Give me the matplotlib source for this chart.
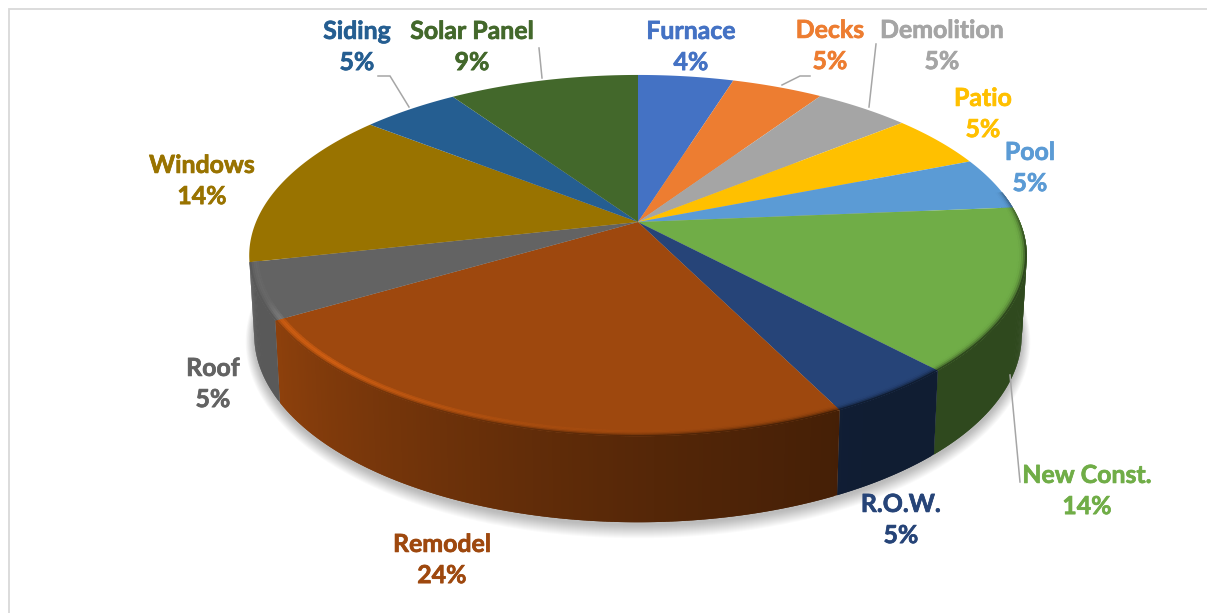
import numpy as np
import matplotlib
matplotlib.use("Agg")
import matplotlib.pyplot as plt
import matplotlib.patheffects as pe
from matplotlib.collections import PolyCollection
from matplotlib.colors import to_rgb
from matplotlib.patches import Polygon

categories = ["Furnace", "Decks", "Demolition", "Patio", "Pool", "New Const.",
              "R.O.W.", "Remodel", "Roof", "Windows", "Siding", "Solar Panel"]
values = [4.75, 4.55, 4.75, 4.9, 4.7, 14.5, 4.6, 23.7, 5.0, 14.25, 4.85, 9.45]
percent_labels = ["4%", "5%", "5%", "5%", "5%", "14%", "5%", "24%", "5%", "14%", "5%", "9%"]
colors = ["#4472C4", "#ED7D31", "#A5A5A5", "#FFC000", "#5B9BD5", "#70AD47",
          "#264478", "#9E480E", "#636363", "#997300", "#255E91", "#43682B"]
label_pos = [(691, 47), (830, 46), (942, 46), (983, 114), (1030, 168), (1087, 491),
             (901, 520), (442, 560), (213, 384), (202, 181), (357, 47), (472, 47)]
leaders = [[(810, 76), (800, 76), (782, 85)], [(876, 44), (869, 107)],
           [(1010, 375), (1020, 482)], [(378, 76), (390, 76), (409, 107)],
           [(539, 48), (542, 78)]]

CX, CY, A, B, K = 638.0, 222.0, 174.4, 382.0, 0.186


def project(theta, r=1.0):
    """Perspective projection of a point of the pie's top disc (theta clockwise from 12)."""
    u, v = r * np.sin(theta), r * np.cos(theta)
    w = 1 + K * v
    return CX + B * u / w, CY - A * v / w


def project_bottom(theta):
    x, y = project(theta)
    v = np.cos(theta)
    return CX + 0.987 * (x - CX), y + 78 - 8 * v


def wall_shade(theta_deg):
    return np.interp(theta_deg, [80, 150, 175, 190, 215, 240, 290], [.42, .42, .52, .6, .75, .9, .9])


fig = plt.figure(figsize=(12.07, 6.13), dpi=100)
ax = fig.add_axes([0, 0, 1, 1])
ax.set_xlim(0, 1207)
ax.set_ylim(613, 0)
ax.axis("off")

# chart frame (only the top and left edges fall inside the picture)
ax.add_patch(plt.Rectangle((9, 9), 1400, 800, fc="white", ec="#D9D9D9", lw=1.3, zorder=0))

# soft shadow below the pie
full = np.radians(np.linspace(0, 360, 361))
sx, sy = project_bottom(full)
for grow in np.linspace(1.05, 1.0, 14):
    ax.add_patch(Polygon(np.c_[CX + (sx - CX) * (1 + (grow - 1) * 0.45), 262 + (sy - 262) * grow + 3],
                         fc="#000000", ec="none", alpha=0.02, zorder=1))

edges = np.concatenate([[0], np.cumsum(values)]) / np.sum(values) * 360.0
WALL_END = edges[9]  # the wall disappears behind the rim where Windows begins
wall_polys, wall_cols, rim_polys, rim_cols, top_polys, top_cols = [], [], [], [], [], []
levels = np.linspace(0.972, 1.0, 7)
for start, end, color in zip(edges[:-1], edges[1:], colors):
    base = np.array(to_rgb(color))
    deg = np.linspace(start, end, max(int(end - start) * 2, 2) + 1)
    th = np.radians(deg)
    # flat top face of the slice
    tx, ty = project(th)
    top_polys.append(np.c_[np.r_[CX, tx], np.r_[CY, ty]])
    top_cols.append(base)
    # outer wall and bevel, in narrow steps
    for i in range(len(deg) - 1):
        mid = 0.5 * (deg[i] + deg[i + 1])
        if not 80 <= mid <= WALL_END:
            continue
        shade = wall_shade(mid)
        # each wall step overlaps the next one so that no seams show
        stop = min(i + 3, len(deg))
        span = th[i:stop]
        x0, y0 = project(span)
        x1, y1 = project_bottom(span)
        wall_polys.append(np.c_[np.r_[x0, x1[::-1]], np.r_[y0, y1[::-1]]])
        wall_cols.append(base * shade)
        glow = np.interp(mid, [170, 195, 225, 238, 245], [0.0, 0.1, 0.35, 0.3, 0.06])
        fade = np.interp(mid, [80, 100], [0.4, 1])
        for j in range(len(levels) - 1):
            t = j / (len(levels) - 2)
            ax0, ay0 = project(span, levels[j])
            ax1, ay1 = project(span, levels[j + 1])
            rim_polys.append(np.c_[np.r_[ax0, ax1[::-1]], np.r_[ay0, ay1[::-1]]])
            bump = np.sin(np.pi * t)
            c = base * (1 - t ** 3 * fade) + base * shade * t ** 3 * fade
            c = c * (1 + glow * bump)
            rim_cols.append(np.clip(c, 0, 1))

ax.add_collection(PolyCollection(wall_polys, facecolors=wall_cols, edgecolors="none", zorder=2))
ax.add_collection(PolyCollection(top_polys, facecolors=top_cols, edgecolors="none", zorder=3))
ax.add_collection(PolyCollection(rim_polys, facecolors=rim_cols, edgecolors="none", zorder=4))

for pts in leaders:
    xs, ys = zip(*pts)
    ax.plot(xs, ys, color="#A6A6A6", lw=1.1, zorder=5, solid_joinstyle="miter")

for name, pct, pos, color in zip(categories, percent_labels, label_pos, colors):
    ax.text(pos[0], pos[1], f"{name}\n{pct}", color=color, ha="center", va="center",
            family="Lato", fontweight="bold", fontsize=17.9, linespacing=1.43, zorder=6,
            path_effects=[pe.withStroke(linewidth=0.5, foreground=color)])

fig.savefig("out.png", dpi=100)
